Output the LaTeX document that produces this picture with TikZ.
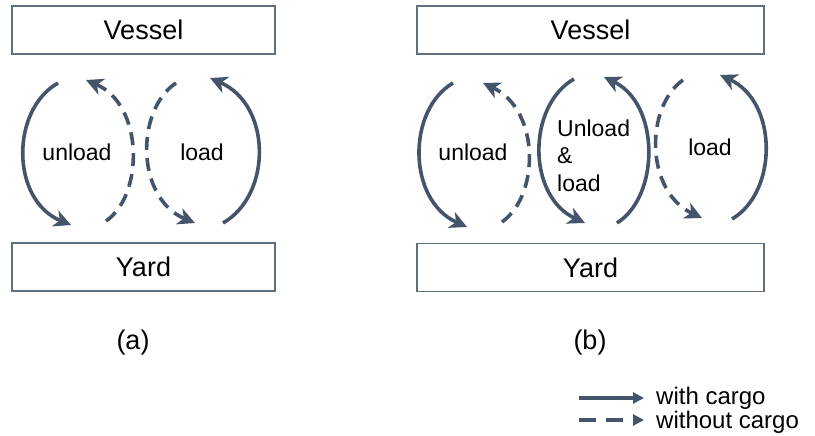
\documentclass[tikz,border=0pt]{standalone}
\usepackage{fontspec}
\setmainfont{Liberation Sans}
\usetikzlibrary{arrows.meta}
\definecolor{slate}{HTML}{44546A}
\begin{document}
\begin{tikzpicture}[x=1pt,y=-1pt,
  box/.style={draw=slate!85, line width=1.5pt, minimum height=48pt, inner sep=0pt, font=\fontsize{27}{32}\selectfont},
  lbl/.style={font=\fontsize{23}{27.5}\selectfont, inner sep=0pt},
  captxt/.style={font=\fontsize{27}{32}\selectfont, inner sep=0pt},
  leg/.style={font=\fontsize{24}{28}\selectfont, inner sep=0pt, anchor=west},
  solidarr/.style={draw=slate, line width=3.6pt, -{Stealth[length=17pt,width=17pt,inset=5pt]}},
  dasharr/.style={solidarr, dash pattern=on 13pt off 8pt},
  legsolid/.style={draw=slate, line width=4pt, -{Triangle[length=11pt,width=11pt]}},
  legdash/.style={legsolid, dash pattern=on 17pt off 10pt}]
\useasboundingbox (0,0) rectangle (815,436);
% panel (a)
\node[box, minimum width=263pt] (va) at (143.5,30) {Vessel};
\node[box, minimum width=263pt] (ya) at (143.5,267) {Yard};
\coordinate (a1s) at (58,83);  \coordinate (a1e) at (71,225);
\coordinate (a2s) at (106,221); \coordinate (a2e) at (86,80);
\coordinate (a3s) at (176,83); \coordinate (a3e) at (195,223);
\coordinate (a4s) at (223,223); \coordinate (a4e) at (210,78);
\draw[solidarr] (a1s) .. controls (10.5,110) and (10.5,200) .. (a1e);
\draw[dasharr] (a2s) .. controls (144,195) and (144,105) .. (a2e);
\draw[dasharr] (a3s) .. controls (135.5,110) and (135.5,198) .. (a3e);
\draw[solidarr] (a4s) .. controls (272,195) and (272,105) .. (a4e);
\node[lbl] (ula) at (77,152) {unload};
\node[lbl] (la) at (202,152) {load};
\node[captxt] (capa) at (133,343) {(a)};
% panel (b)
\node[box, minimum width=347pt] (vb) at (590.5,30) {Vessel};
\node[box, minimum width=347pt] (yb) at (590.5,267.5) {Yard};
\coordinate (b1s) at (453,83);  \coordinate (b1e) at (467,227);
\coordinate (b2s) at (502,222); \coordinate (b2e) at (483,83);
\coordinate (b3s) at (574,79);  \coordinate (b3e) at (585,223);
\coordinate (b4s) at (617,223); \coordinate (b4e) at (604,77);
\coordinate (b5s) at (683,80);  \coordinate (b5e) at (702,218);
\coordinate (b6s) at (732,219); \coordinate (b6e) at (720,75);
\draw[solidarr] (b1s) .. controls (407,110) and (407,200) .. (b1e);
\draw[dasharr] (b2s) .. controls (540,195) and (540,110) .. (b2e);
\draw[solidarr] (b3s) .. controls (527,106) and (527,196) .. (b3e);
\draw[solidarr] (b4s) .. controls (660,196) and (660,104) .. (b4e);
\draw[dasharr] (b5s) .. controls (645,107) and (645,191) .. (b5e);
\draw[solidarr] (b6s) .. controls (778,192) and (778,102) .. (b6e);
\node[lbl] (ulb) at (473,152) {unload};
\node[lbl, align=left, anchor=west] (ulbl) at (557,155.5) {Unload\\\&\\load};
\node[lbl] (lb) at (710,147) {load};
\node[captxt] (capb) at (590,343) {(b)};
% legend
\coordinate (l1s) at (579,398); \coordinate (l1e) at (644,398);
\coordinate (l2s) at (579,420); \coordinate (l2e) at (644,420);
\draw[legsolid] (l1s) -- (l1e);
\draw[legdash] (l2s) -- (l2e);
\node[leg] (lt1) at (656,398) {with cargo};
\node[leg] (lt2) at (656,422) {without cargo};
\end{tikzpicture}
\end{document}
